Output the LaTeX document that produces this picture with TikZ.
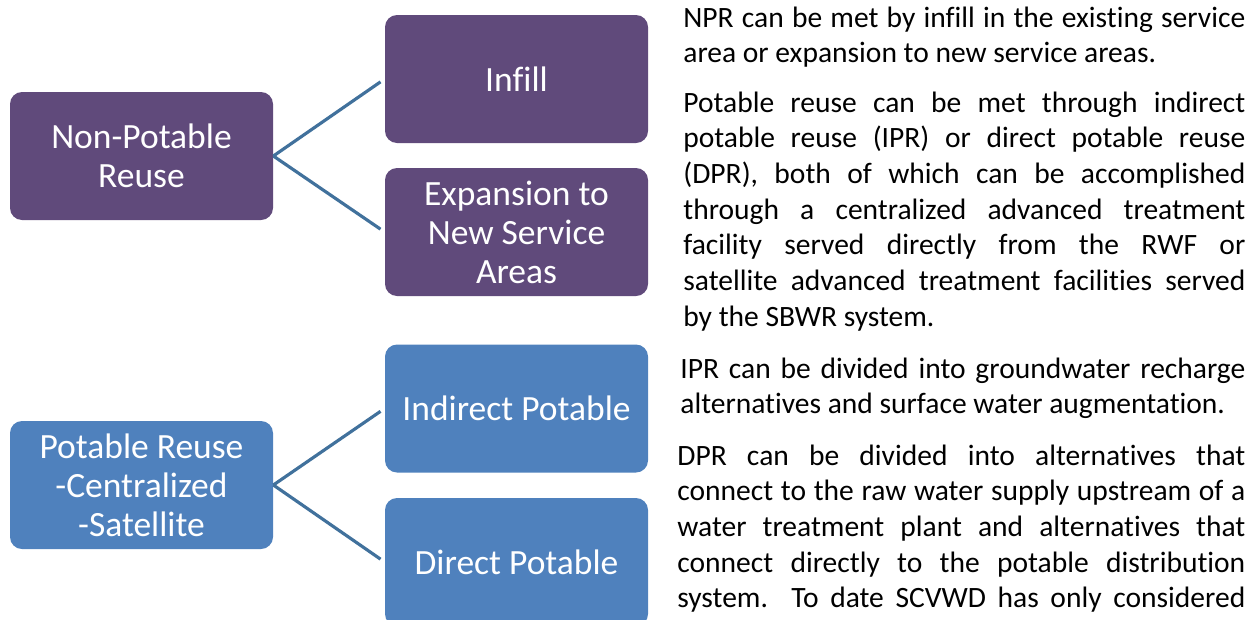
\documentclass[tikz,border=0pt]{standalone}
\usepackage{fontspec}
\setmainfont[Ligatures=NoCommon]{Carlito}
\definecolor{nprpurple}{HTML}{604A7B}
\definecolor{prblue}{HTML}{4F81BD}
\definecolor{linkblue}{HTML}{41719C}

\tikzset{
  catbox/.style={rounded corners=0.24cm,minimum width=5.26cm,minimum height=2.56cm,align=center,text=white,font=\fontsize{20.2}{22.2}\selectfont,inner sep=2pt},
  npbox/.style={catbox,fill=nprpurple},
  pbox/.style={catbox,fill=prblue},
  link/.style={draw=linkblue,line width=1.8pt,shorten >=0.1cm},
  note/.style={anchor=base west,inner sep=0pt,font=\fontsize{16.8}{20.3}\selectfont}
}

\begin{document}
\begin{tikzpicture}
\useasboundingbox (0,0) rectangle (25.2,-12.38);
% non-potable branch
\node[npbox] (npr) at (2.83,-3.12) {Non-Potable\\Reuse};
\node[npbox] (infill) at (10.33,-1.58) {Infill};
\node[npbox] (expand) at (10.33,-4.64) {Expansion to\\New Service\\Areas};
\draw[link] (npr.east)--(infill.west);
\draw[link] (npr.east)--(expand.west);
% potable branch
\node[pbox] (pr) at (2.83,-9.70) {Potable Reuse\\-Centralized\\-Satellite};
\node[pbox] (ipr) at (10.33,-8.17) {Indirect Potable};
\node[pbox] (dpr) at (10.33,-11.24) {Direct Potable};
\draw[link] (pr.east)--(ipr.west);
\draw[link] (pr.east)--(dpr.west);
% notes on the right
\node[note] (nprtxt) at (13.66,-0.54) {\parbox[t]{11.24cm}{NPR can be met by infill in the existing service\linebreak area or expansion to new service areas.}};
\node[note] (prtxt) at (13.66,-2.24) {\parbox[t]{11.24cm}{Potable reuse can be met through indirect\linebreak potable reuse (IPR) or direct potable reuse\linebreak (DPR), both of which can be accomplished\linebreak through a centralized advanced treatment\linebreak facility served directly from the RWF or\linebreak satellite advanced treatment facilities served\linebreak by the SBWR system.}};
\node[note] (iprtxt) at (13.60,-7.56) {\parbox[t]{11.30cm}{IPR can be divided into groundwater recharge\linebreak alternatives and surface water augmentation.}};
\node[note] (dprtxt) at (13.54,-9.30) {\parbox[t]{11.36cm}{\parfillskip=0pt DPR can be divided into alternatives that\linebreak connect to the raw water supply upstream of a\linebreak water treatment plant and alternatives that\linebreak connect directly to the potable distribution\linebreak system.\ \ To date SCVWD has only considered}};
\end{tikzpicture}
\end{document}
